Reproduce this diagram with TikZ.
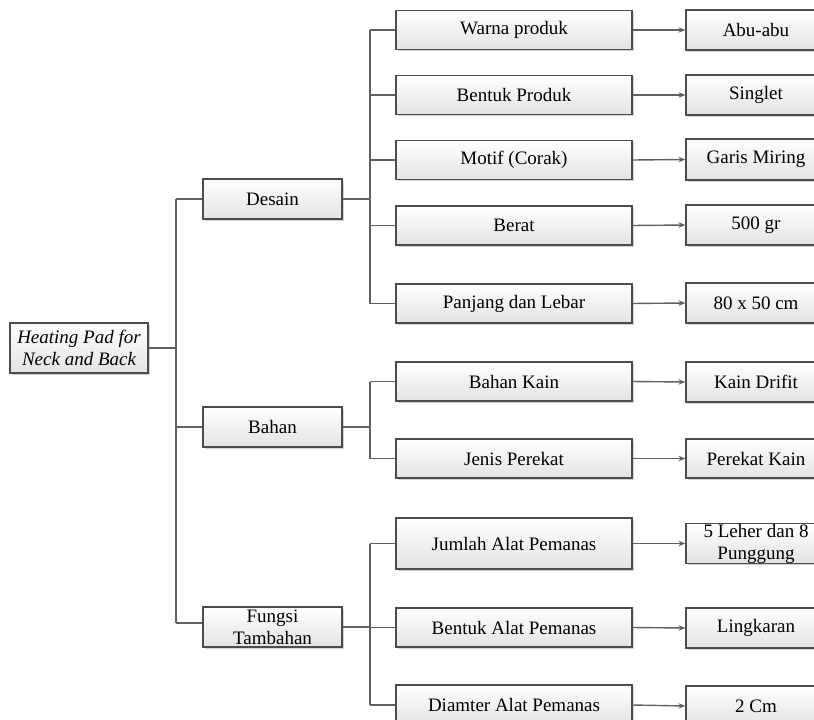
\documentclass[tikz,border=0pt]{standalone}
\usepackage{fontspec}
\setmainfont{Liberation Serif}
\usetikzlibrary{arrows.meta,shadows}
\begin{document}
\begin{tikzpicture}[x=1pt,y=-1pt,
  box/.style={draw=black!70, line width=1.2pt, top color=white, bottom color=black!11,
    drop shadow={shadow xshift=1.5pt,shadow yshift=-1.5pt,fill=black!35,opacity=0.5},
    inner sep=0pt, align=center, font=\fontsize{19}{22}\selectfont},
  lvone/.style={box, minimum width=139pt, minimum height=40pt},
  lvtwo/.style={box, minimum width=236pt, minimum height=39pt},
  lvthree/.style={box, minimum width=140pt, minimum height=40pt},
  link/.style={draw=black!62, line width=1.4pt},
  arr/.style={link, -{Stealth[length=7pt,width=5.5pt]}}]
\useasboundingbox (0,0) rectangle (814,720);
\clip (0,0) rectangle (814,720);

% root
\node[box, minimum width=138pt, minimum height=50pt,
  font=\fontsize{19}{22}\selectfont\itshape] (root) at (79,348) {Heating Pad for\\Neck and Back};

% level 1
\node[lvone] (desain) at (272.5,199) {Desain};
\node[lvone] (bahan) at (272.5,427) {Bahan};
\node[lvone] (fungsi) at (272.5,627) {Fungsi\\Tambahan};

% level 2
\node[lvtwo] (warna) at (514,30) {Warna produk};
\node[lvtwo] (bentuk) at (514,95) {Bentuk Produk};
\node[lvtwo] (motif) at (514,160) {Motif (Corak)};
\node[lvtwo] (berat) at (514,225.5) {Berat};
\node[lvtwo] (panjang) at (514,303.5) {Panjang dan Lebar};
\node[lvtwo] (kain) at (514,381.5) {Bahan Kain};
\node[lvtwo] (jenis) at (514,458.5) {Jenis Perekat};
\node[lvtwo, minimum height=51pt] (jumlah) at (514,543.5) {Jumlah Alat Pemanas};
\node[lvtwo] (balat) at (514,627.5) {Bentuk Alat Pemanas};
\node[lvtwo, minimum height=40pt] (diamter) at (514,705) {Diamter Alat Pemanas};

% level 3
\node[lvthree] (abu) at (756,30) {Abu-abu};
\node[lvthree] (singlet) at (756,95) {Singlet};
\node[lvthree, minimum height=41pt] (garis) at (756,159.5) {Garis Miring};
\node[lvthree] (gr) at (756,225) {500 gr};
\node[lvthree] (ukuran) at (756,303) {80 x 50 cm};
\node[lvthree] (drifit) at (756,382) {Kain Drifit};
\node[lvthree, minimum height=39pt] (perekat) at (756,458.5) {Perekat Kain};
\node[lvthree, minimum height=39pt] (leher) at (756,543.5) {5 Leher dan 8\\Punggung};
\node[lvthree] (lingkaran) at (756,628) {Lingkaran};
\node[lvthree] (cm) at (756,706) {2 Cm};

% trunk
\coordinate (trunk) at (176,348);
\draw[link] (root.east) -- (trunk);
\draw[link] (desain.west -| trunk) -- ([yshift=4pt]fungsi.west -| trunk);
\draw[link] (desain.west -| trunk) -- (desain.west);
\draw[link] (bahan.west -| trunk) -- (bahan.west);
\draw[link] ([yshift=4pt]fungsi.west -| trunk) -- ([yshift=4pt]fungsi.west);

% buses
\coordinate (bus) at (370,0);
\draw[link] (desain.east) -- (desain.east -| bus);
\draw[link] (warna.west -| bus) -- (panjang.west -| bus);
\foreach \c in {warna,bentuk,motif,berat,panjang}
  \draw[link] (\c.west -| bus) -- (\c.west);

\draw[link] (bahan.east) -- (bahan.east -| bus);
\draw[link] (kain.west -| bus) -- (jenis.west -| bus);
\foreach \c in {kain,jenis}
  \draw[link] (\c.west -| bus) -- (\c.west);

\draw[link] (fungsi.east) -- (fungsi.east -| bus);
\draw[link] (jumlah.west -| bus) -- (diamter.west -| bus);
\foreach \c in {jumlah,balat,diamter}
  \draw[link] (\c.west -| bus) -- (\c.west);

% arrows
\draw[arr] (warna.east) -- (abu.west);
\draw[arr] (bentuk.east) -- (singlet.west);
\draw[arr] (motif.east) -- (garis.west);
\draw[arr] (berat.east) -- (gr.west);
\draw[arr] (panjang.east) -- (ukuran.west);
\draw[arr] (kain.east) -- (drifit.west);
\draw[arr] (jenis.east) -- (perekat.west);
\draw[arr] (jumlah.east) -- (leher.west);
\draw[arr] (balat.east) -- (lingkaran.west);
\draw[arr] (diamter.east) -- (cm.west);
\end{tikzpicture}
\end{document}
